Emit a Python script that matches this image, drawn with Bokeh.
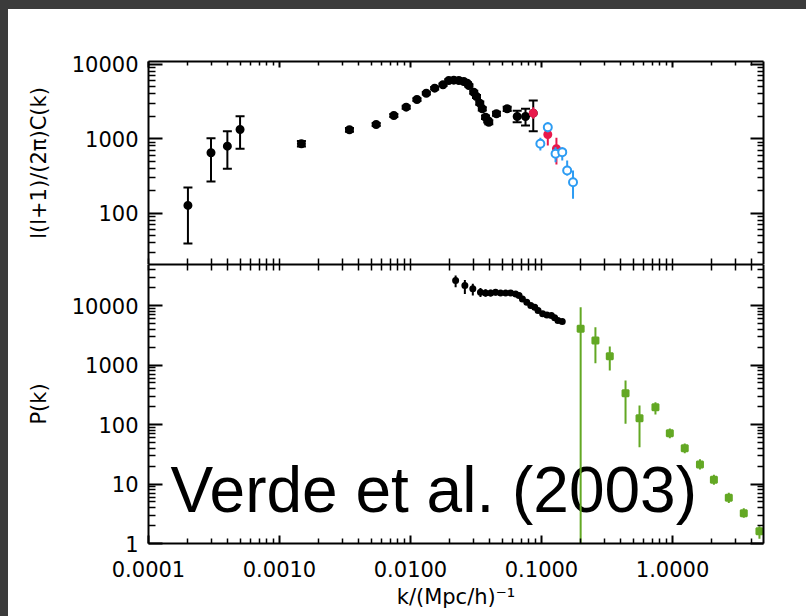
from bokeh.plotting import figure
from bokeh.models import (LogAxis, FixedTicker, PrintfTickFormatter, Label, Div,
                          ColumnDataSource, Range1d)
from bokeh.layouts import row, column
from bokeh.embed import file_html
from bokeh.resources import INLINE

# ---------------- CMB angular power, mapped to k ----------------
cmb_k = [2.0e-4, 3.0e-4, 4.0e-4, 5.0e-4, 1.47e-3, 3.42e-3, 5.47e-3, 7.46e-3,
         9.27e-3, 1.12e-2, 1.32e-2, 1.53e-2, 1.77e-2, 1.96e-2, 2.14e-2,
         2.34e-2, 2.55e-2, 2.71e-2, 2.79e-2, 3.04e-2, 3.19e-2, 3.38e-2,
         3.53e-2, 3.74e-2, 3.89e-2, 3.96e-2, 4.53e-2, 5.47e-2, 6.52e-2,
         7.55e-2, 8.65e-2]
cmb_val = [127, 649, 795, 1333, 857, 1321, 1556, 2056,
           2660, 3375, 4100, 4790, 5320, 6080, 6140,
           6080, 5890, 5590, 5200, 4230, 3700, 3010,
           2530, 1950, 1760, 1670, 2170, 2530, 1990,
           1990, 2210]
cmb_hi = [221, 1019, 1265, 2014, 930, 1400, 1630, 2150,
          2780, 3520, 4270, 4980, 5530, 6300, 6360,
          6300, 6110, 5800, 5410, 4420, 3870, 3160,
          2660, 2060, 1860, 1770, 2310, 2690, 2390,
          2530, 3270]
cmb_lo = [39, 267, 395, 734, 790, 1245, 1480, 1960,
          2540, 3230, 3930, 4600, 5110, 5860, 5920,
          5860, 5670, 5380, 4990, 4040, 3530, 2860,
          2400, 1840, 1660, 1570, 2040, 2370, 1670,
          1510, 1265]

# red and blue band powers at high k
red_k = [0.0865, 0.1117, 0.130]
red_val = [2210, 1142, 734]
red_hi = [2660, 1362, 1031]
red_lo = [1857, 813, 452]

blue_k = [0.098, 0.1117, 0.128, 0.144, 0.157, 0.174]
blue_val = [857, 1432, 628, 661, 375, 261]
blue_hi = [1031, 1671, 771, 771, 511, 375]
blue_lo = [697, 1227, 484, 511, 321, 156]

# ---------------- matter power spectrum P(k) ----------------
gal_k = [0.0221, 0.026, 0.0299, 0.0342, 0.0374, 0.0409, 0.0446, 0.0488,
         0.0533, 0.0582, 0.0636, 0.0674, 0.0715, 0.0772, 0.0828, 0.0888,
         0.0941, 0.102, 0.110, 0.119, 0.126, 0.1335, 0.144]
gal_val = [26300, 21700, 19100, 16700, 16300, 16300, 16700, 16300,
           16300, 16300, 15700, 14700, 12950, 11370, 10000, 9370,
           8240, 7250, 6970, 6790, 6220, 5600, 5380]
gal_hi = [31900, 27000, 23200, 19800, 18800, 18500, 18800, 18200,
          18000, 17900, 17200, 16000, 14000, 12200, 10700, 10000,
          8800, 7700, 7400, 7200, 6600, 5950, 5700]
gal_lo = [20300, 15700, 14700, 13900, 14000, 14200, 14700, 14500,
          14600, 14700, 14300, 13400, 11900, 10500, 9300, 8750,
          7700, 6800, 6550, 6380, 5850, 5270, 5070]

lya_k = [0.199, 0.258, 0.332, 0.438, 0.56, 0.741, 0.954, 1.24, 1.62, 2.07,
         2.69, 3.5, 4.61]
lya_val = [4060, 2580, 1406, 336, 128, 195, 71.5, 40, 21.3, 11.8, 5.86, 3.23, 1.61]
lya_hi = [9370, 4320, 2050, 548, 208, 237, 86, 48, 26, 14.3, 7.1, 3.9, 1.95]
lya_lo = [0.5, 1070, 809, 103, 41.5, 147, 59, 33, 17.5, 9.7, 4.8, 2.7, 1.2]

x_major = [1e-4, 1e-3, 1e-2, 1e-1, 1.0]
top_y_major = [100, 1000, 10000]
bot_y_major = [1, 10, 100, 1000, 10000]

RED = "#e8194b"
BLUE = "#2d9cf3"
GREEN = "#63a824"
DARK = "#3b3b3b"
FONT = "DejaVu Sans"


def minors(decades):
    return [m * 10.0 ** e for e in decades for m in range(2, 10)]


def ticker(major, decades):
    return FixedTicker(ticks=major, minor_ticks=minors(decades))


def seam_ticker(major, decades):
    # no major ticks (so no label space); decades are drawn as minor ticks
    return FixedTicker(ticks=[], minor_ticks=sorted(major + minors(decades)))


def base_axis(ax, tk, major_in, minor_in):
    ax.ticker = tk
    ax.axis_line_color = "black"
    ax.axis_line_width = 2
    ax.major_tick_line_color = "black"
    ax.major_tick_line_width = 2
    ax.minor_tick_line_color = "black"
    ax.minor_tick_line_width = 1.5
    ax.major_tick_in = major_in
    ax.major_tick_out = 0
    ax.minor_tick_in = minor_in
    ax.minor_tick_out = 0


def labelled(ax, fmt, standoff):
    ax.formatter = PrintfTickFormatter(format=fmt)
    ax.major_label_text_font = FONT
    ax.major_label_text_font_size = "21px"
    ax.major_label_text_color = "black"
    ax.major_label_standoff = standoff
    ax.axis_label_text_font = FONT
    ax.axis_label_text_font_size = "21px"
    ax.axis_label_text_font_style = "normal"
    ax.axis_label_text_color = "black"


def silent(ax):
    ax.major_label_text_font_size = "8px"
    ax.major_label_text_alpha = 0
    ax.major_label_standoff = 0


def make_fig(height, ylo, yhi, top_border, bottom_border):
    p = figure(width=798, height=height, x_axis_type="log", y_axis_type="log",
               x_range=Range1d(1e-4, 4.95), y_range=Range1d(ylo, yhi),
               output_backend="svg", toolbar_location=None,
               min_border=0, min_border_left=140, min_border_right=43,
               min_border_top=top_border, min_border_bottom=bottom_border)
    p.grid.visible = False
    p.outline_line_color = None
    p.background_fill_color = "white"
    p.border_fill_color = "white"
    return p


def errbars(p, k, val, hi, lo, color, marker, size, caps=False, fill=None):
    src = ColumnDataSource(dict(k=k, val=val, hi=hi, lo=lo))
    p.segment(x0="k", y0="lo", x1="k", y1="hi", source=src,
              line_color=color, line_width=2)
    if caps:
        p.scatter(x="k", y="hi", source=src, marker="dash", size=9,
                  line_color=color, line_width=2)
        p.scatter(x="k", y="lo", source=src, marker="dash", size=9,
                  line_color=color, line_width=2)
    p.scatter(x="k", y="val", source=src, marker=marker, size=size,
              line_color=color, line_width=2,
              fill_color=fill if fill is not None else color)


X_DEC = range(-4, 1)
TOP_DEC = range(1, 4)
BOT_DEC = range(0, 5)

# ---------------- upper panel ----------------
top = make_fig(255, 20.4, 10940, 52, 0)
base_axis(top.yaxis[0], ticker(top_y_major, TOP_DEC), 14, 7)
labelled(top.yaxis[0], "%d", 10)
top.yaxis[0].axis_label = "l(l+1)/(2\u03c0)C(k)"
top.yaxis[0].axis_label_standoff = 18

base_axis(top.xaxis[0], seam_ticker(x_major, X_DEC), 0, 6)
top.xaxis[0].major_label_standoff = 0

top_above = LogAxis()
base_axis(top_above, ticker(x_major, X_DEC), 6, 4)
silent(top_above)
top.add_layout(top_above, "above")

top_right = LogAxis()
base_axis(top_right, ticker(top_y_major, TOP_DEC), 13, 6)
silent(top_right)
top.add_layout(top_right, "right")

errbars(top, cmb_k, cmb_val, cmb_hi, cmb_lo, "black", "circle", 7, caps=True)
errbars(top, red_k, red_val, red_hi, red_lo, RED, "circle", 7)
errbars(top, blue_k, blue_val, blue_hi, blue_lo, BLUE, "circle", 8, fill="white")

# ---------------- lower panel ----------------
bot = make_fig(352, 1, 49000, 0, 73)
base_axis(bot.yaxis[0], ticker(bot_y_major, BOT_DEC), 14, 7)
labelled(bot.yaxis[0], "%d", 10)
bot.yaxis[0].axis_label = "P(k)"
bot.yaxis[0].axis_label_standoff = 18

base_axis(bot.xaxis[0], ticker(x_major, X_DEC), 8, 5)
labelled(bot.xaxis[0], "%.4f", 17)
bot.xaxis[0].axis_label = "k/(Mpc/h)\u207b\u00b9"
bot.xaxis[0].axis_label_standoff = 5

bot_above = LogAxis()
base_axis(bot_above, seam_ticker(x_major, X_DEC), 0, 6)
bot_above.major_label_standoff = 0
bot.add_layout(bot_above, "above")

bot_right = LogAxis()
base_axis(bot_right, ticker(bot_y_major, BOT_DEC), 13, 6)
silent(bot_right)
bot.add_layout(bot_right, "right")

# citation text sits beneath the data marks
bot.add_layout(Label(x=1.47e-4, y=7.8, text="Verde et al. (2003)",
                     text_font="Liberation Sans", text_font_size="64px",
                     text_color="black", text_baseline="alphabetic",
                     level="underlay"))

errbars(bot, gal_k, gal_val, gal_hi, gal_lo, "black", "circle", 5)
errbars(bot, lya_k, lya_val, lya_hi, lya_lo, GREEN, "square", 6)

# dark frame strips along the top and left edges
left_strip = Div(text="", width=8, height=616, margin=0,
                 styles={"background-color": DARK})
top_strip = Div(text="", width=798, height=9, margin=0,
                styles={"background-color": DARK})

layout = row(left_strip, column(top_strip, top, bot))

open("out.html", "w").write(file_html(layout, INLINE))
